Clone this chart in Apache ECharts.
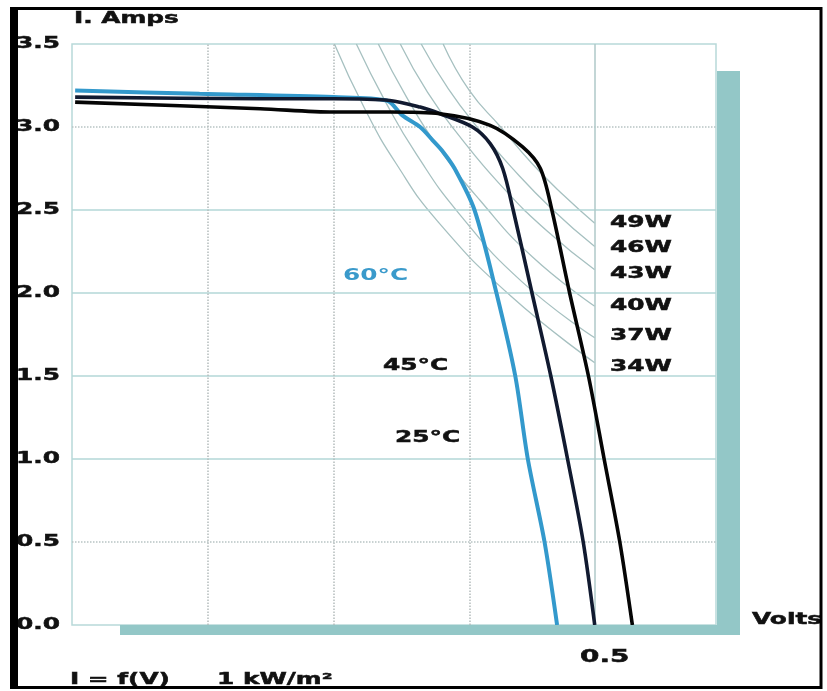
<!DOCTYPE html>
<html><head><meta charset="utf-8">
<script src="https://cdn.jsdelivr.net/npm/echarts@6/dist/echarts.min.js"></script>
<style>html,body{margin:0;padding:0;background:#fff}#c{width:827px;height:691px}</style>
</head><body><div id="c"></div>
<script>
// ---------- data ----------
const yTicks = [0, 0.5, 1.0, 1.5, 2.0, 2.5, 3.0, 3.5];
const yTickLabels = ['0.0', '0.5', '1.0', '1.5', '2.0', '2.5', '3.0', '3.5'];
const xTickValues = [0.5];
const xTickLabels = ['0.5'];
const solidGridY = [1.0, 1.5, 2.0, 2.5];
const dottedGridY = [0.5, 3.0];
const dottedGridX = [0.125, 0.25, 0.375];
const solidGridX = [0.5];

const tempNames = ['60°C', '45°C', '25°C'];
const v60 = [0.003, 0.122, 0.250, 0.301, 0.316, 0.333, 0.345, 0.355, 0.366, 0.385, 0.406, 0.424, 0.436, 0.452, 0.464];
const i60 = [3.22, 3.20, 3.18, 3.16, 3.07, 3.00, 2.92, 2.85, 2.75, 2.50, 2.00, 1.50, 1.00, 0.50, 0];
const v45 = [0.003, 0.180, 0.250, 0.304, 0.333, 0.352, 0.383, 0.400, 0.412, 0.422, 0.440, 0.458, 0.474, 0.489, 0.500];
const i45 = [3.18, 3.17, 3.17, 3.16, 3.12, 3.08, 3.00, 2.90, 2.75, 2.50, 2.00, 1.50, 1.00, 0.50, 0];
const v25 = [0.003, 0.180, 0.250, 0.304, 0.352, 0.400, 0.431, 0.448, 0.459, 0.476, 0.494, 0.509, 0.524, 0.536];
const i25 = [3.15, 3.11, 3.09, 3.09, 3.08, 3.01, 2.88, 2.75, 2.50, 2.00, 1.50, 1.00, 0.50, 0];

const powerNames = ['49W', '46W', '43W', '40W', '37W', '34W'];
const p49V = [0.355, 0.38, 0.41, 0.44, 0.47, 0.5];
const p49I = [3.5, 3.22, 3.0, 2.78, 2.59, 2.42];
const p46V = [0.334, 0.36, 0.39, 0.42, 0.46, 0.5];
const p46I = [3.5, 3.23, 2.98, 2.76, 2.5, 2.28];
const p43V = [0.314, 0.34, 0.37, 0.41, 0.455, 0.5];
const p43I = [3.5, 3.21, 2.95, 2.65, 2.37, 2.14];
const p40V = [0.293, 0.32, 0.35, 0.39, 0.44, 0.5];
const p40I = [3.5, 3.18, 2.88, 2.56, 2.22, 1.92];
const p37V = [0.272, 0.30, 0.33, 0.37, 0.43, 0.5];
const p37I = [3.5, 3.15, 2.83, 2.48, 2.07, 1.73];
const p34V = [0.251, 0.28, 0.31, 0.35, 0.42, 0.5];
const p34I = [3.5, 3.11, 2.78, 2.43, 1.98, 1.58];

// ---------- chart ----------
const FONT = '"DejaVu Sans", Verdana, sans-serif';
const SX = 1.55;
const zip = (a, b) => a.map((v, i) => [v, b[i]]);
const chart = echarts.init(document.getElementById('c'), null, { renderer: 'canvas' });

const powerSets = [[p49V, p49I], [p46V, p46I], [p43V, p43I], [p40V, p40I], [p37V, p37I], [p34V, p34I]];
const series = [];
powerSets.forEach((p, k) => {
  const s = {
    type: 'line', name: powerNames[k], data: zip(p[0], p[1]), smooth: 0.5,
    showSymbol: false, symbol: 'none', silent: true, z: 2,
    lineStyle: { color: '#a6c0c0', width: 1.3 }
  };
  if (k === 0) {
    s.markLine = {
      silent: true, symbol: 'none', label: { show: false }, animation: false,
      data: [
        ...solidGridY.map(v => ({ yAxis: v, lineStyle: { type: 'solid', color: '#b3d7d7', width: 1.5 } })),
        ...dottedGridY.map(v => ({ yAxis: v, lineStyle: { type: 'dotted', color: '#b8c4c4', width: 1.5 } })),
        ...dottedGridX.map(v => ({ xAxis: v, lineStyle: { type: 'dotted', color: '#b4bcbc', width: 1.5 } })),
        ...solidGridX.map(v => ({ xAxis: v, lineStyle: { type: 'solid', color: '#afc8c8', width: 1.5 } }))
      ]
    };
  }
  series.push(s);
});
const tempSets = [[v60, i60, '#3399cc', 4], [v45, i45, '#111a30', 3.6], [v25, i25, '#050505', 3.6]];
tempSets.forEach((t, k) => {
  series.push({
    type: 'line', name: tempNames[k], data: zip(t[0], t[1]), smooth: 0.3,
    showSymbol: false, symbol: 'none', silent: true, z: 5,
    lineStyle: { color: t[2], width: t[3] }
  });
});

chart.setOption({
  animation: false,
  backgroundColor: '#ffffff',
  grid: { left: 72, top: 44, width: 644, height: 581, show: true, borderColor: '#b8d9d9', borderWidth: 1.5, backgroundColor: 'transparent' },
  xAxis: { type: 'value', min: 0, max: 0.616, interval: 0.125, axisLine: { show: false }, axisTick: { show: false }, axisLabel: { show: false }, splitLine: { show: false } },
  yAxis: { type: 'value', min: 0, max: 3.5, interval: 0.5, axisLine: { show: false }, axisTick: { show: false }, axisLabel: { show: false }, splitLine: { show: false } },
  series: series
});

// ---------- overlay texts & decorations positioned from the axes ----------
const px = (x, y) => chart.convertToPixel({ gridIndex: 0 }, [x, y]);
const g = [];
const txt = (text, x, y, opt) => ({
  type: 'text', x: x, y: y, scaleX: SX, z: 100,
  style: Object.assign({ text: text, font: 'bold 16px ' + FONT, fill: '#111', align: 'left', verticalAlign: 'middle', stroke: '#111', lineWidth: 0.5 }, opt || {})
});

const p0 = px(0, 0), pTop = px(0, 3.5), pMax = px(0.616, 0);
// teal bars
g.push({ type: 'rect', z: 50, shape: { x: 120, y: p0[1], width: pMax[0] + 24 - 120, height: 10 }, style: { fill: '#93c7c7' } });
g.push({ type: 'rect', z: 50, shape: { x: pMax[0] + 1, y: pTop[1] + 27, width: 23, height: p0[1] + 10 - pTop[1] - 27 }, style: { fill: '#93c7c7' } });
// frame
g.push({ type: 'rect', z: 120, shape: { x: 12, y: 8.5, width: 809, height: 679 }, style: { fill: 'none', stroke: '#000', lineWidth: 3 } });
g.push({ type: 'rect', z: 120, shape: { x: 10, y: 7, width: 8, height: 682 }, style: { fill: '#000' } });

// y tick labels
yTicks.forEach((v, k) => {
  const p = px(0, v);
  g.push(txt(yTickLabels[k], 60, p[1], { align: 'right' }));
});
// x tick label
xTickValues.forEach((v, k) => {
  const p = px(v, 0);
  g.push(txt(xTickLabels[k], p[0] + 10, p[1] + 32, { align: 'center', font: 'bold 18px ' + FONT }));
});
// axis titles
g.push(txt('I. Amps', 74, 19, {}));
g.push(txt('Volts', p0[0] + 680, p0[1] - 5, {}));
// temperature labels
g.push(txt(tempNames[0], 343, 276, { fill: '#3a9acb', stroke: null, lineWidth: 0, font: '600 16px ' + FONT }));
g.push(txt(tempNames[1], 383, 366, {}));
g.push(txt(tempNames[2], 395, 438, {}));
// power labels
const powerLabelY = [223, 248, 274, 306, 336, 367];
powerNames.forEach((n, k) => g.push(txt(n, 610, powerLabelY[k], {})));
// footer
g.push(txt('I = f(V)', 70, 680, {}));
g.push(txt('1 kW/m²', 217, 680, {}));

chart.setOption({ graphic: { elements: g } });
</script>
</body></html>
